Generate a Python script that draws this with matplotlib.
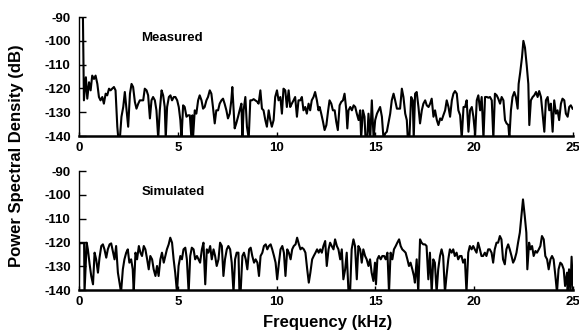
import matplotlib
matplotlib.use('Agg')
import matplotlib.pyplot as plt

plt.rcParams['font.family'] = ['Liberation Sans', 'DejaVu Sans']
plt.rcParams['axes.unicode_minus'] = False

# Measured spectrum (kHz, dB)
freq_meas = [0.0, 0.2, 0.25, 0.35, 0.42, 0.51, 0.59, 0.67, 0.76, 0.84, 0.93, 1.01, 1.09, 1.18, 1.26,
             1.35, 1.43, 1.52, 1.60, 1.68, 1.77, 1.85, 1.94, 1.99, 2.07, 2.15, 2.24, 2.32, 2.41, 2.49,
             2.58, 2.66, 2.74, 2.83, 2.91, 3.00, 3.08, 3.16, 3.25, 3.33, 3.42, 3.50, 3.59, 3.67, 3.75,
             3.84, 3.92, 4.01, 4.09, 4.18, 4.26, 4.34, 4.39, 4.46, 4.55, 4.63, 4.71, 4.80, 4.88, 4.97,
             5.05, 5.13, 5.19, 5.27, 5.35, 5.44, 5.52, 5.61, 5.69, 5.74, 5.77, 5.86, 5.94, 6.03, 6.11,
             6.20, 6.28, 6.36, 6.45, 6.53, 6.62, 6.70, 6.78, 6.87, 6.95, 7.04, 7.12, 7.21, 7.29, 7.37,
             7.46, 7.54, 7.63, 7.71, 7.76, 7.83, 7.88, 7.96, 8.05, 8.13, 8.22, 8.27, 8.33, 8.42, 8.50,
             8.59, 8.67, 8.75, 8.84, 8.92, 9.01, 9.09, 9.18, 9.26, 9.34, 9.43, 9.51, 9.60, 9.68, 9.76,
             9.85, 9.93, 10.02, 10.10, 10.19, 10.27, 10.35, 10.44, 10.52, 10.61, 10.69, 10.77, 10.86,
             10.94, 11.03, 11.11, 11.20, 11.28, 11.36, 11.45, 11.53, 11.62, 11.70, 11.78, 11.87, 11.95,
             12.04, 12.12, 12.18, 12.26, 12.35, 12.43, 12.52, 12.60, 12.68, 12.77, 12.85, 12.94, 13.02,
             13.10, 13.19, 13.27, 13.36, 13.44, 13.53, 13.58, 13.64, 13.73, 13.81, 13.90, 13.98, 14.06,
             14.15, 14.23, 14.28, 14.37, 14.45, 14.50, 14.59, 14.65, 14.74, 14.82, 14.91, 14.99, 15.08,
             15.16, 15.24, 15.33, 15.41, 15.50, 15.58, 15.66, 15.75, 15.83, 15.92, 16.00, 16.09, 16.17,
             16.25, 16.34, 16.42, 16.51, 16.59, 16.64, 16.72, 16.81, 16.89, 16.94, 17.01, 17.09, 17.18,
             17.26, 17.35, 17.43, 17.52, 17.60, 17.69, 17.77, 17.85, 17.94, 18.02, 18.11, 18.19, 18.28,
             18.36, 18.44, 18.53, 18.61, 18.70, 18.78, 18.87, 18.95, 19.03, 19.12, 19.20, 19.29, 19.37,
             19.46, 19.54, 19.62, 19.71, 19.79, 19.88, 19.96, 20.05, 20.13, 20.21, 20.30, 20.38, 20.47,
             20.55, 20.64, 20.72, 20.80, 20.89, 20.97, 21.05, 21.14, 21.22, 21.31, 21.39, 21.48, 21.56,
             21.64, 21.73, 21.78, 21.86, 21.94, 22.03, 22.11, 22.20, 22.25, 22.33, 22.42, 22.49, 22.57,
             22.66, 22.74, 22.79, 22.87, 22.96, 23.04, 23.13, 23.21, 23.29, 23.38, 23.46, 23.55, 23.63,
             23.72, 23.80, 23.88, 23.97, 24.05, 24.14, 24.22, 24.30, 24.39, 24.47, 24.56, 24.64, 24.73,
             24.81, 24.89, 24.98]
psd_meas = [-90, -90, -125, -115.3, -124.3, -117.4, -120.8, -114.6, -116, -114.6, -118.1, -123.6, -125,
            -123.6, -126.4, -122.2, -122.9, -120.1, -120.8, -120.1, -119.4, -120.8, -136.1, -141, -141,
            -131.9, -127.8, -121.5, -129.2, -136.1, -122.2, -118.1, -119.4, -125.7, -128.5, -126.4, -125,
            -125, -125, -120.1, -120.8, -122.9, -132.6, -125, -123.6, -125, -129.2, -141, -129.2, -120.8,
            -122.9, -127.8, -141, -127.8, -123.6, -122.9, -125, -123.6, -123.6, -125, -127.8, -133.3, -141,
            -127.1, -127.8, -131.9, -131.3, -131.3, -141, -131.3, -141, -129.2, -130.6, -125, -122.9, -125,
            -128.5, -127.8, -125, -123.6, -120.8, -122.2, -127.8, -134.7, -129.2, -129.2, -126.4, -125,
            -124.3, -126.4, -129.2, -132.6, -130.6, -125, -119.4, -129.2, -136.8, -134.7, -131.9, -129.2,
            -126.4, -141, -129.2, -123.6, -136.1, -141, -125, -125, -124.5, -125, -125.5, -126.4, -120.8,
            -128.5, -129.2, -133.3, -136.1, -129.2, -133.3, -136.1, -133.3, -123.6, -120.8, -125, -123.6,
            -130.6, -120.1, -120.8, -127.8, -120.8, -127.8, -126.4, -125, -123.6, -131.9, -125, -125,
            -123.6, -129.2, -127.8, -130.6, -126.4, -129.2, -125, -123.6, -121.5, -125, -129.2, -127.8,
            -130.6, -134, -137.5, -135.4, -129.9, -125, -126.4, -129.2, -129.2, -134, -137.5, -127.1,
            -125.7, -125, -122.2, -129.2, -136.8, -129.2, -127.8, -129.2, -127.1, -127.8, -130.6, -133.3,
            -129.2, -141, -129.2, -131.9, -141, -141, -130.6, -141, -125, -141, -133.3, -130.6, -129.2,
            -127.8, -131.9, -141, -138.9, -138.2, -134.7, -130.6, -125, -122.2, -125, -128.5, -128.5,
            -128.5, -120.1, -123.6, -130.6, -133.3, -141, -141, -123.6, -125, -141, -122.2, -121.5, -127.8,
            -134.7, -129.2, -126.4, -125, -127.1, -127.8, -126.4, -124.3, -131.9, -129.2, -133.3, -135.4,
            -132.6, -133.3, -131.3, -129.2, -125, -127.8, -131.9, -125, -122.2, -121.1, -122.2, -129.2,
            -131.3, -141, -127.8, -127.8, -125, -138.2, -129.2, -127.8, -131.9, -139.6, -125, -122.9,
            -129.2, -123.6, -141, -123.6, -123.6, -123.9, -123.6, -125, -141, -122.2, -122.9, -124.3,
            -126.4, -123.6, -125, -133.3, -134.7, -135.4, -141, -129.2, -123.6, -121.5, -123.6, -128.5,
            -118.1, -113.2, -106.9, -100, -102.8, -110.4, -118.1, -135.4, -125, -123.6, -122.9, -121.5,
            -123.6, -121.1, -123.6, -130.6, -138.2, -125, -123.6, -129.2, -126.4, -138.2, -125, -130.6,
            -129.2, -133.3, -126.4, -124.3, -125, -130.6, -131.9, -127.8, -127.1, -128.5]

# Simulated spectrum (kHz, dB)
freq_sim = [0.0, 0.02, 0.26, 0.28, 0.39, 0.45, 0.54, 0.62, 0.71, 0.79, 0.87, 0.96, 1.04, 1.13, 1.21,
            1.29, 1.38, 1.46, 1.55, 1.63, 1.71, 1.80, 1.88, 1.97, 2.05, 2.13, 2.22, 2.30, 2.39, 2.47,
            2.55, 2.64, 2.72, 2.77, 2.86, 2.94, 3.03, 3.11, 3.19, 3.28, 3.36, 3.45, 3.53, 3.61, 3.70,
            3.78, 3.87, 3.95, 4.03, 4.12, 4.20, 4.29, 4.37, 4.45, 4.54, 4.62, 4.71, 4.79, 4.87, 4.96,
            5.04, 5.13, 5.21, 5.29, 5.38, 5.46, 5.55, 5.63, 5.71, 5.80, 5.88, 5.97, 6.05, 6.13, 6.22,
            6.30, 6.39, 6.47, 6.55, 6.64, 6.72, 6.81, 6.89, 6.97, 7.06, 7.14, 7.23, 7.31, 7.39, 7.48,
            7.56, 7.65, 7.73, 7.82, 7.90, 7.98, 8.07, 8.12, 8.18, 8.27, 8.35, 8.44, 8.52, 8.61, 8.69,
            8.77, 8.86, 8.94, 9.03, 9.11, 9.19, 9.28, 9.36, 9.45, 9.53, 9.61, 9.70, 9.78, 9.87, 9.95,
            10.03, 10.12, 10.20, 10.29, 10.37, 10.45, 10.54, 10.62, 10.71, 10.79, 10.87, 10.96, 11.04,
            11.13, 11.21, 11.29, 11.38, 11.46, 11.55, 11.63, 11.71, 11.80, 11.88, 11.97, 12.05, 12.13,
            12.21, 12.29, 12.37, 12.46, 12.54, 12.63, 12.71, 12.79, 12.88, 12.96, 13.05, 13.13, 13.22,
            13.30, 13.38, 13.47, 13.55, 13.64, 13.72, 13.80, 13.89, 13.97, 14.06, 14.14, 14.23, 14.31,
            14.39, 14.48, 14.56, 14.65, 14.73, 14.81, 14.90, 14.98, 15.03, 15.10, 15.18, 15.27, 15.35,
            15.44, 15.52, 15.61, 15.69, 15.77, 15.86, 15.94, 16.03, 16.11, 16.20, 16.28, 16.36, 16.45,
            16.53, 16.62, 16.70, 16.78, 16.87, 16.95, 17.00, 17.09, 17.17, 17.26, 17.34, 17.42, 17.51,
            17.59, 17.68, 17.76, 17.85, 17.93, 18.01, 18.10, 18.18, 18.27, 18.35, 18.43, 18.52, 18.60,
            18.69, 18.77, 18.86, 18.94, 19.02, 19.11, 19.19, 19.28, 19.36, 19.44, 19.53, 19.61, 19.70,
            19.78, 19.87, 19.95, 20.03, 20.12, 20.20, 20.29, 20.37, 20.45, 20.54, 20.62, 20.71, 20.79,
            20.88, 20.96, 21.04, 21.13, 21.21, 21.30, 21.38, 21.46, 21.55, 21.63, 21.72, 21.80, 21.89,
            21.97, 22.05, 22.14, 22.22, 22.31, 22.39, 22.47, 22.56, 22.64, 22.69, 22.78, 22.85, 22.93,
            23.01, 23.10, 23.18, 23.27, 23.35, 23.43, 23.52, 23.60, 23.69, 23.77, 23.86, 23.94, 24.02,
            24.11, 24.19, 24.27, 24.36, 24.44, 24.53, 24.60, 24.70, 24.73, 24.80, 24.87, 24.93, 25.0]
psd_sim = [-137, -120.3, -120.3, -141, -120.1, -122.9, -129.2, -134.1, -137.6, -124.3, -127.1, -132.7,
           -126.4, -121.5, -120.8, -122.9, -126.4, -122.9, -120.8, -120.4, -123.6, -127.1, -121.5, -132.7,
           -136.9, -141, -131.3, -127.1, -124.3, -122.9, -128.5, -127.1, -131.3, -141, -124.3, -127.1,
           -121.5, -124.3, -125.7, -121.5, -122.9, -127.1, -131.3, -125.7, -127.1, -131.3, -134.1, -129.9,
           -134.1, -127.1, -124.3, -128.5, -125.7, -122.9, -120.8, -118, -120.1, -127.1, -132.7, -141,
           -129.9, -125.7, -127.1, -122.9, -122.2, -127.1, -141, -125.7, -122.2, -122.9, -127.1, -125.7,
           -127.1, -128.5, -122.9, -120.1, -137.6, -122.9, -124.3, -121.5, -127.1, -122.9, -125.7, -129.9,
           -127.1, -120.1, -121.5, -134.1, -127.1, -122.9, -121.5, -122.9, -128.5, -141, -127.1, -124.3,
           -124.3, -141, -141, -125.7, -124.3, -127.1, -131.3, -122.9, -122.2, -125.7, -128.5, -127.1,
           -128.5, -134.1, -125.7, -124.3, -121.5, -120.8, -122.9, -121.5, -120.8, -122.9, -125.7, -128.5,
           -135.5, -128.5, -122.9, -121.5, -124.3, -134.1, -122.9, -124.3, -127.1, -122.9, -121.5, -120.8,
           -118, -120.8, -122.9, -122.2, -122.9, -124.3, -131.3, -136.9, -132.7, -127.1, -125.7, -124.3,
           -122.9, -124.3, -122.9, -124.3, -121.5, -119.4, -129.9, -122.9, -120.1, -121.5, -122.9, -118.7,
           -121.5, -122.9, -127.1, -122.9, -135.5, -131.3, -124.3, -141, -141, -122.9, -118.7, -121.5,
           -135.5, -121.5, -122.9, -128.5, -122.9, -125.7, -127.1, -129.9, -127.1, -132.7, -136.2, -128.5,
           -137.6, -127.1, -125.7, -127.1, -125.7, -125.7, -127.1, -124.3, -141, -124.3, -127.1, -122.9,
           -121.5, -120.1, -118.7, -121.5, -122.9, -123.6, -124.3, -127.1, -129.9, -128.5, -131.3, -134.1,
           -136.9, -127.1, -141, -118.7, -120.1, -120.8, -120.8, -121.5, -135.5, -124.3, -141, -127.1,
           -128.5, -141, -131.3, -125.7, -122.9, -125.7, -141, -134.1, -127.1, -122.9, -124.3, -122.9,
           -125.7, -124.3, -127.1, -125.7, -125.7, -128.5, -127.1, -141, -124.3, -121.5, -122.9, -121.5,
           -122.9, -124.3, -120.1, -122.9, -125.7, -125.7, -124.3, -125.7, -122.9, -122.9, -124.3, -128.5,
           -122.9, -120.1, -120.1, -117.3, -118.7, -127.1, -129.2, -122.9, -120.8, -122.9, -125.7, -128.5,
           -127.1, -124.3, -120.1, -115.9, -108.9, -101.9, -108.9, -115.9, -131.3, -120.1, -122.9, -121.5,
           -125.7, -123.6, -124.3, -122.9, -121.5, -117.3, -118.7, -125.7, -127.1, -131.3, -127.1, -125.7,
           -127.1, -134.1, -141, -131.3, -128.5, -129.2, -131.3, -138.3, -132.7, -141, -131.3, -141,
           -126, -140]

panels = [(freq_meas, psd_meas, 'Measured', 0.5928),
          (freq_sim, psd_sim, 'Simulated', 0.1317)]

fig = plt.figure(figsize=(5.79, 3.34), dpi=100)

for freq, psd, label, bottom in panels:
    ax = fig.add_axes([0.1364, bottom, 0.8532, 0.356])
    ax.plot(freq, psd, color='black', linewidth=1.5)
    ax.set_xlim(0, 25)
    ax.set_ylim(-140, -90)
    ax.set_xticks([0, 5, 10, 15, 20, 25])
    ax.set_yticks([-90, -100, -110, -120, -130, -140])
    ax.spines['top'].set_visible(False)
    ax.spines['right'].set_visible(False)
    ax.spines['left'].set_linewidth(1.0)
    ax.spines['bottom'].set_linewidth(1.8)
    ax.tick_params(axis='y', direction='in', length=5, width=1.0, pad=6)
    ax.tick_params(axis='x', direction='in', length=3, width=1.0, pad=4)
    for t in ax.get_xticklabels() + ax.get_yticklabels():
        t.set_fontsize(9.5)
        t.set_fontweight('bold')
    ax.text(3.17, -98.6, label, fontsize=9.5, fontweight='bold', ha='left', va='center')

fig.text(0.028, 0.535, 'Power Spectral Density (dB)', rotation=90, fontsize=12,
         fontweight='bold', ha='center', va='center')
fig.text(0.565, 0.035, 'Frequency (kHz)', fontsize=12, fontweight='bold',
         ha='center', va='center')

fig.savefig('out.png', dpi=100)
